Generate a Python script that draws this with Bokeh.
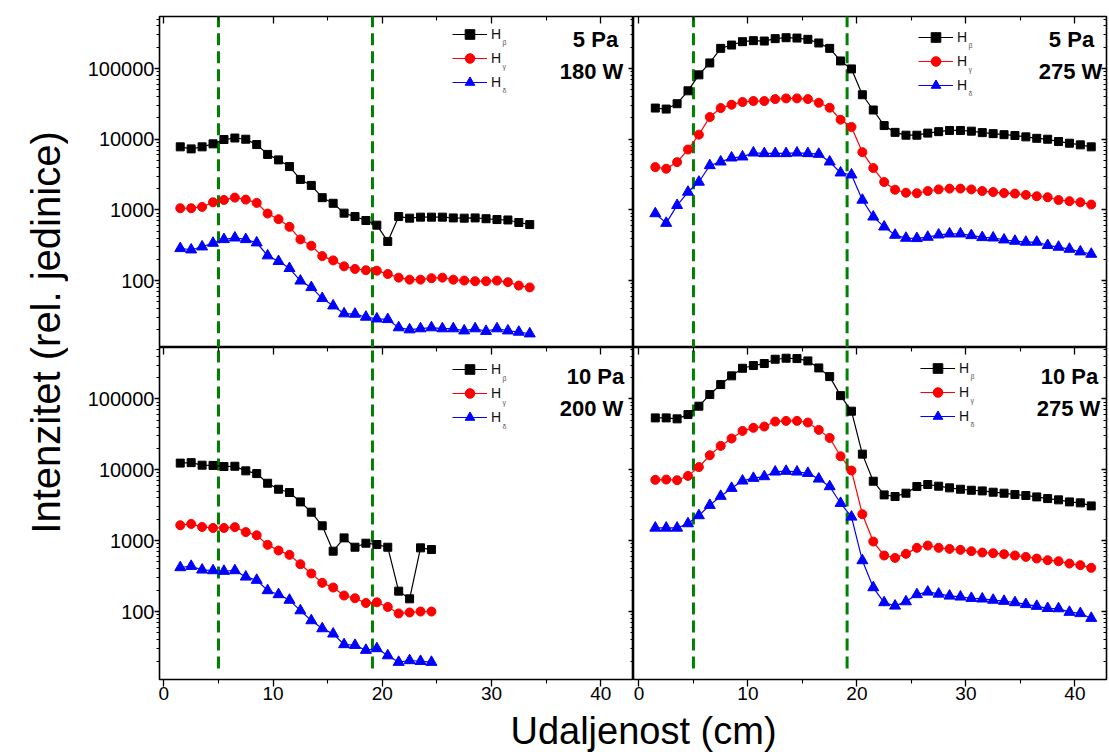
from bokeh.plotting import figure
from bokeh.models import (Range1d, FixedTicker, LogAxis, LinearAxis, Legend, LegendItem,
                          Label, NumeralTickFormatter, CustomJSTickFormatter)
from bokeh.layouts import row, column
from bokeh.embed import file_html
from bokeh.resources import INLINE

FONT = "Liberation Sans"

# ---------------- data ----------------
x33 = [1.5, 2.5, 3.5, 4.5, 5.5, 6.5, 7.5, 8.5, 9.5, 10.5, 11.5, 12.5, 13.5, 14.5, 15.5, 16.5,
       17.5, 18.5, 19.5, 20.5, 21.5, 22.5, 23.5, 24.5, 25.5, 26.5, 27.5, 28.5, 29.5, 30.5,
       31.5, 32.5, 33.5]
x24 = [1.5, 2.5, 3.5, 4.5, 5.5, 6.5, 7.5, 8.5, 9.5, 10.5, 11.5, 12.5, 13.5, 14.5, 15.5, 16.5,
       17.5, 18.5, 19.5, 20.5, 21.5, 22.5, 23.5, 24.5]
x41 = [1.5, 2.5, 3.5, 4.5, 5.5, 6.5, 7.5, 8.5, 9.5, 10.5, 11.5, 12.5, 13.5, 14.5, 15.5, 16.5,
       17.5, 18.5, 19.5, 20.5, 21.5, 22.5, 23.5, 24.5, 25.5, 26.5, 27.5, 28.5, 29.5, 30.5,
       31.5, 32.5, 33.5, 34.5, 35.5, 36.5, 37.5, 38.5, 39.5, 40.5, 41.5]

# 5 Pa, 180 W
hb_5_180 = [7800, 7300, 7800, 8600, 9900, 10400, 10000, 8400, 6100, 5100, 4100, 2700, 2220, 1490,
            1240, 900, 805, 708, 608, 358, 805, 764, 790, 790, 790, 770, 764, 770, 750, 730, 720,
            663, 620]
hg_5_180 = [1056, 1056, 1102, 1282, 1383, 1492, 1398, 1256, 888, 739, 576, 382, 311, 222, 193,
            159, 146, 140, 138, 124, 110, 103, 103, 108, 110, 103, 100, 98, 98, 100, 95, 85, 80]
hd_5_180 = [285, 273, 301, 339, 382, 403, 382, 343, 225, 187, 149, 99, 80, 56, 44, 34, 33.6,
            30.5, 28.8, 28.2, 21.6, 20.2, 20.9, 21.6, 20.9, 20.9, 19.5, 20.9, 19.2, 20.9, 19.5,
            18.7, 17.7]

# 5 Pa, 275 W
hb_5_275 = [27600, 26700, 31800, 48400, 81400, 120000, 193000, 215000, 240000, 248000, 245000,
            265000, 273000, 270000, 259000, 230000, 193000, 128000, 98800, 42600, 25900, 15600,
            12500, 11400, 11400, 12200, 12800, 13300, 13300, 13000, 12400, 12000, 11600, 11300,
            10800, 10300, 10000, 9270, 8780, 8320, 7800]
hg_5_275 = [4030, 3820, 4740, 7150, 11600, 20600, 27600, 30800, 33600, 34700, 34700, 37000,
            37800, 37800, 37000, 32800, 27900, 18900, 14900, 6560, 3910, 2480, 1930, 1750, 1720,
            1850, 1950, 2000, 2000, 1950, 1850, 1790, 1730, 1700, 1630, 1560, 1510, 1380, 1330,
            1280, 1190]
hd_5_275 = [888, 649, 1160, 1790, 2480, 4250, 4790, 5460, 5640, 6420, 6290, 6290, 6290, 6420,
            6290, 6150, 4790, 3350, 3140, 1380, 797, 576, 440, 399, 395, 412, 444, 459, 459, 435,
            408, 403, 378, 362, 351, 351, 315, 298, 279, 256, 237]

# 10 Pa, 200 W
hb_10_200 = [12400, 12600, 11600, 11500, 11100, 11200, 9640, 8830, 6450, 5310, 4770, 3520, 2520,
             1620, 710, 1094, 808, 920, 881, 808, 194, 151, 791, 749]
hg_10_200 = [1650, 1720, 1560, 1510, 1510, 1550, 1320, 1190, 872, 725, 630, 465, 344, 254, 218,
             168, 154, 132, 135, 116, 94, 97, 100, 100]
hd_10_200 = [418, 436, 387, 379, 371, 379, 308, 277, 198, 174, 145, 103, 74.6, 57.5, 48.4, 34.3,
             33.5, 28.5, 30.1, 23.9, 19.3, 20.4, 19.9, 19.3]

# 10 Pa, 275 W
hb_10_275 = [53900, 53900, 52200, 60000, 78800, 115000, 159000, 211000, 270000, 295000, 315000,
             362000, 374000, 370000, 343000, 273000, 206000, 111000, 67000, 16600, 6890, 4420,
             4190, 4670, 5800, 6190, 5860, 5550, 5310, 5140, 5030, 4820, 4670, 4470, 4330, 4140,
             3920, 3760, 3520, 3410, 3090]
hg_10_275 = [7200, 7270, 7120, 8190, 10900, 16000, 21700, 27600, 35300, 39000, 40700, 47800,
             48900, 48900, 46300, 36500, 28100, 15500, 9750, 2360, 971, 617, 571, 651, 791, 853,
             791, 765, 741, 710, 679, 665, 644, 617, 590, 559, 530, 513, 475, 451, 413]
hd_10_275 = [1510, 1510, 1510, 1740, 2260, 3160, 4240, 5490, 6970, 7600, 8020, 9330, 9550, 9330,
             8930, 7430, 5800, 3370, 2160, 524, 218, 134, 120, 138, 174, 189, 177, 166, 161, 154,
             151, 145, 140, 134, 126, 119, 111, 110, 98, 94, 80.5]

dash_x = [5.0, 19.1]
series_names = ["H", "H", "H"]
series_subs = ["\u03b2", "\u03b3", "\u03b4"]
x_ticks = [0, 10, 20, 30, 40]
x_minor = [5, 15, 25, 35]
y_ticks = [10, 100, 1000, 10000, 100000, 1000000]
y_minor = [m * 10 ** e for e in range(1, 6) for m in range(2, 10)]
y_title = "Intenzitet (rel. jedinice)"
x_title = "Udaljenost (cm)"

COLORS = ["black", "#ff0000", "#0000ff"]
MARKERS = ["square", "circle", "triangle"]
SIZES = [8, 9, 11]


def style_axis(ax, labels, tin, tout):
    ax.axis_line_color = None
    ax.major_tick_line_color = "black"
    ax.minor_tick_line_color = "black"
    ax.major_tick_line_width = 1.3
    ax.minor_tick_line_width = 1.1
    ax.major_tick_in = tin
    ax.major_tick_out = tout
    ax.minor_tick_in = int(tin * 0.6) if tin else 0
    ax.minor_tick_out = int(tout * 0.6) if tout else 0
    if labels:
        ax.major_label_text_font = FONT
        ax.major_label_text_font_size = "20px"
        ax.major_label_text_color = "black"
        ax.major_label_standoff = 0
    else:
        ax.formatter = CustomJSTickFormatter(code="return ''")
        ax.major_label_text_font_size = "1px"
        ax.major_label_standoff = 0


def make_panel(xs, ys_list, txt1, txt2, is_left, is_bottom, leg_x, leg_row1, dash_y0, tx1, tx2):
    frame_w = 474 if is_left else 473
    frame_h = 332 if is_bottom else 331
    bl = 91 if is_left else 0
    br = 0 if is_left else 3
    bt = 0 if is_bottom else 16
    bb = 29 if is_bottom else 0
    x_rng = (-0.4, 43.0) if is_left else (-0.5, 42.9)
    y_rng = (11.0, 530000) if is_bottom else (11.3, 545000)
    p = figure(width=bl + frame_w + br, height=bt + frame_h + bb,
               x_range=Range1d(*x_rng), y_range=Range1d(*y_rng), y_axis_type="log",
               x_axis_location="below" if is_bottom else "above",
               y_axis_location="left" if is_left else "right",
               output_backend="svg", toolbar_location=None,
               min_border_left=bl, min_border_right=br, min_border_top=bt, min_border_bottom=bb)
    p.grid.visible = False
    p.outline_line_color = "black"
    p.outline_line_width = 1.6
    p.background_fill_color = "white"
    p.border_fill_color = "white"

    xt = FixedTicker(ticks=x_ticks, minor_ticks=x_minor)
    yt = FixedTicker(ticks=y_ticks, minor_ticks=y_minor)

    xa = p.xaxis[0]
    xa.ticker = xt
    if is_bottom:
        style_axis(xa, True, 0, 7)
        xa.major_label_text_font_size = "19px"
        top = LinearAxis(ticker=xt)
        style_axis(top, False, 7, 0)
        p.add_layout(top, "above")
    else:
        style_axis(xa, False, 7, 0)

    ya = p.yaxis[0]
    ya.ticker = yt
    if is_left:
        ya.formatter = NumeralTickFormatter(format="0")
        style_axis(ya, True, 0, 5)
        ra = LogAxis(ticker=yt)
        style_axis(ra, False, 5, 0)
        p.add_layout(ra, "right")
    else:
        style_axis(ya, False, 5, 0)

    p.segment(x0=dash_x, y0=[dash_y0] * 2, x1=dash_x, y1=[1e7] * 2,
              line_color="#008000", line_width=3, line_dash="12 6")

    items = []
    for ys, c, m, s, name in zip(ys_list, COLORS, MARKERS, SIZES, series_names):
        lr = p.line(xs, ys, line_color=c, line_width=1.2)
        sr = p.scatter(xs, ys, marker=m, size=s, fill_color=c, line_color=c)
        items.append(LegendItem(label=name, renderers=[lr, sr]))

    gh = 24
    leg_h = 3 * gh
    leg_top = leg_row1 - gh / 2
    legend = Legend(items=items, location=(leg_x, int(round(frame_h - leg_top - leg_h))),
                    glyph_width=35, glyph_height=gh, label_height=gh, spacing=0,
                    padding=0, margin=0, label_standoff=4,
                    label_text_font=FONT, label_text_font_size="14px",
                    label_text_color="#111111", border_line_color=None,
                    background_fill_alpha=0)
    p.add_layout(legend)

    for i, sub in enumerate(series_subs):
        rc = leg_row1 + i * gh
        p.add_layout(Label(x=leg_x + 50, y=frame_h - (rc + 8), x_units="screen",
                           y_units="screen", text=sub, text_font=FONT,
                           text_font_size="7px", text_color="#555555",
                           text_baseline="middle", text_align="left"))

    off = 0 if not is_bottom else 6
    p.add_layout(Label(x=tx1, y=frame_h - (23 + off), x_units="screen", y_units="screen",
                       text=txt1, text_font=FONT, text_font_size="22px",
                       text_font_style="bold", text_align="center", text_baseline="middle",
                       text_color="black"))
    p.add_layout(Label(x=tx2, y=frame_h - (55 + off), x_units="screen", y_units="screen",
                       text=txt2, text_font=FONT, text_font_size="22px",
                       text_font_style="bold", text_align="center", text_baseline="middle",
                       text_color="black"))
    return p


tl = make_panel(x33, [hb_5_180, hg_5_180, hd_5_180], "5 Pa", "180 W", True, False,
                293, 18, 10, 436, 432)
tr = make_panel(x41, [hb_5_275, hg_5_275, hd_5_275], "5 Pa", "275 W", False, False,
                285, 21, 10, 438, 437)
bl_ = make_panel(x24, [hb_10_200, hg_10_200, hd_10_200], "10 Pa", "200 W", True, True,
                 293, 22.5, 15.7, 436, 432)
br_ = make_panel(x41, [hb_10_275, hg_10_275, hd_10_275], "10 Pa", "275 W", False, True,
                 287, 21, 15.7, 436, 435)

YT_W = 68
grid_h = tl.height + bl_.height
ytf = figure(width=YT_W, height=grid_h, x_range=Range1d(0, 1), y_range=Range1d(0, 1),
             x_axis_location=None, y_axis_location=None, output_backend="svg",
             toolbar_location=None, min_border=0)
ytf.grid.visible = False
ytf.outline_line_color = None
ytf.add_layout(Label(x=45, y=grid_h - 332, x_units="screen", y_units="screen", text=y_title,
                     angle=90, angle_units="deg", text_align="center",
                     text_baseline="alphabetic",
                     text_font=FONT, text_font_size="40px", text_color="black"))

total_w = YT_W + tl.width + tr.width
xt_h = 752 - grid_h
xtf = figure(width=total_w, height=xt_h, x_range=Range1d(0, 1), y_range=Range1d(0, 1),
             x_axis_location=None, y_axis_location=None, output_backend="svg",
             toolbar_location=None, min_border=0)
xtf.grid.visible = False
xtf.outline_line_color = None
xtf.add_layout(Label(x=643, y=22, x_units="screen", y_units="screen",
                     text=x_title, text_align="center", text_baseline="middle",
                     text_font=FONT, text_font_size="38px", text_color="black"))

layout = column(row(ytf, column(row(tl, tr), row(bl_, br_))), xtf)
open("out.html", "w").write(file_html(layout, INLINE))
